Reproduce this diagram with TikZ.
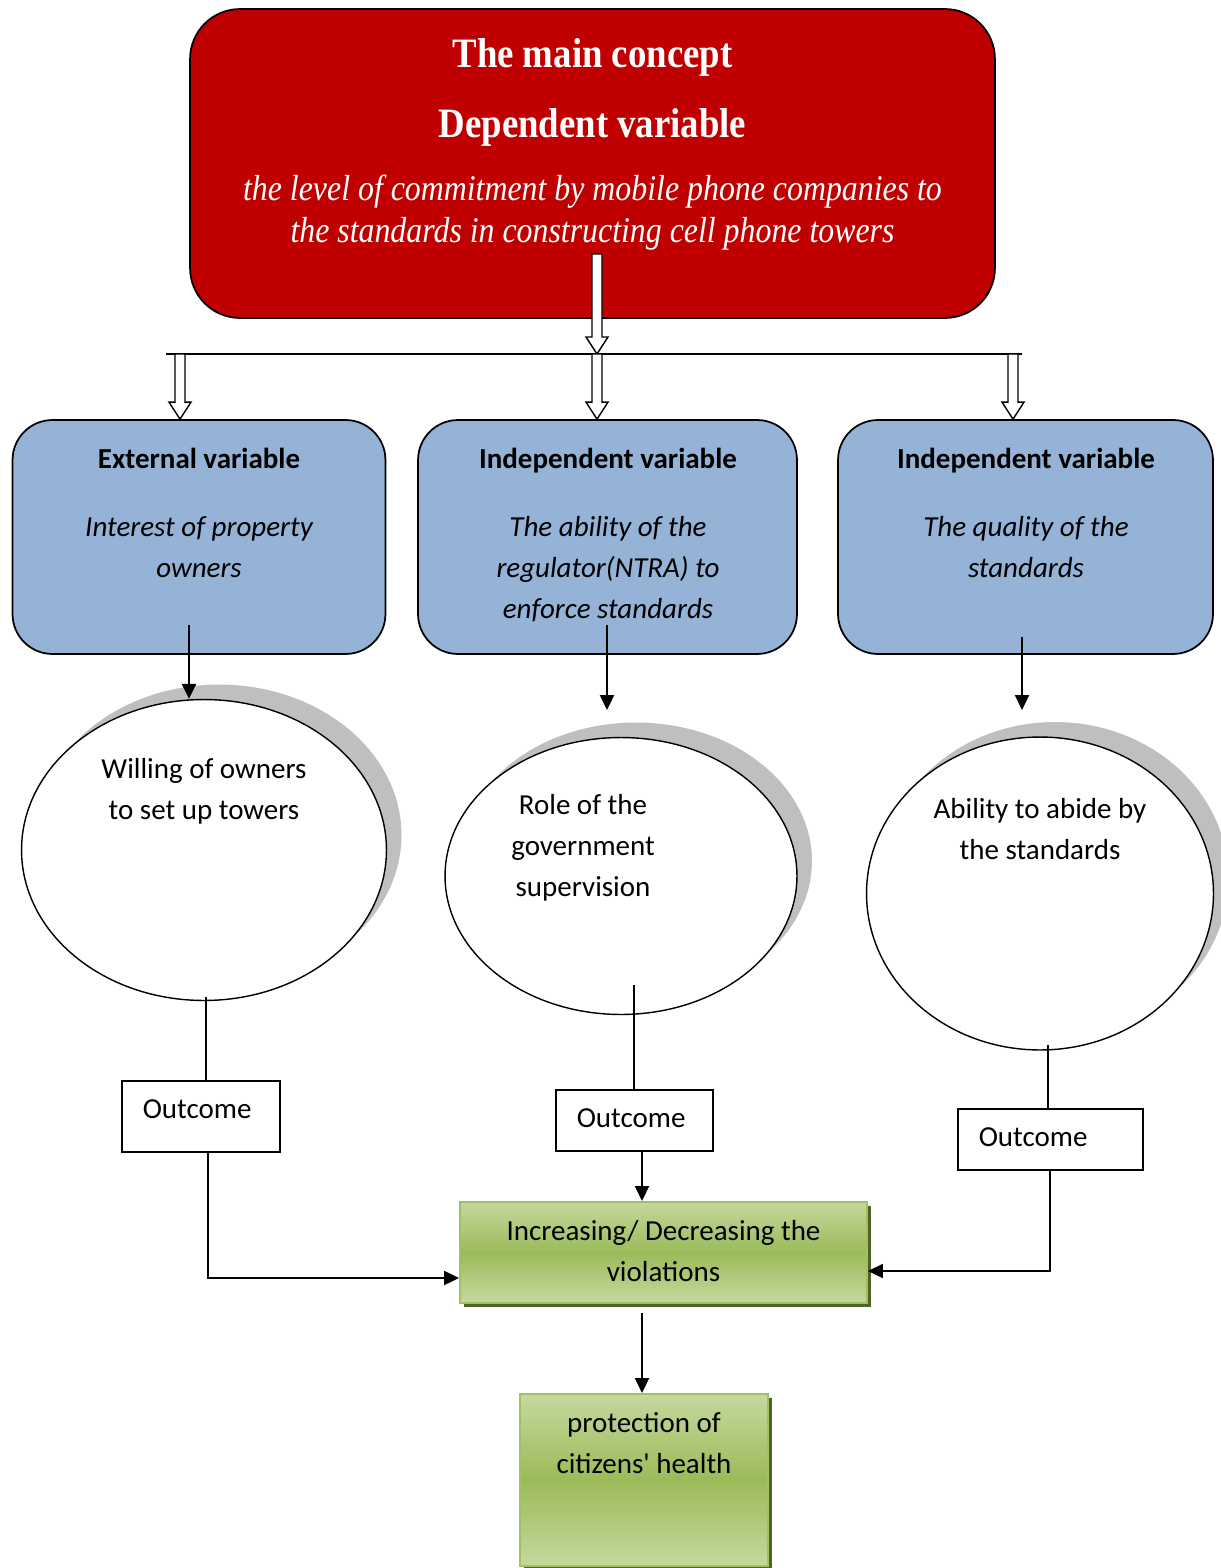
\documentclass[tikz,border=0pt]{standalone}
\usepackage{fontspec}
\setmainfont{Carlito}
\newfontfamily\serifhead[FakeStretch=0.88]{Liberation Serif}
\usetikzlibrary{arrows.meta,shapes.geometric,shadows,calc}

\definecolor{conceptred}{RGB}{192,0,0}
\definecolor{varblue}{RGB}{149,179,215}
\definecolor{greenlight}{RGB}{197,216,158}
\definecolor{greenmid}{RGB}{155,187,89}
\definecolor{greenborder}{RGB}{160,192,98}
\definecolor{greendark}{RGB}{79,98,40}
\definecolor{shadowgray}{RGB}{191,191,191}

% several centred lines, baseline on the first one
\newcommand{\linesof}[1]{\begin{tabular}[t]{@{}c@{}}#1\end{tabular}}

% white block arrow pointing down, from #1 to #2
\newcommand{\hollowarrow}[2]{%
  \draw[hollow] let \p1=(#1), \p2=(#2) in
    (\x1-0.1cm,\y1) -- (\x1+0.1cm,\y1) -- (\x1+0.1cm,\y2+0.34cm)
    -- (\x1+0.22cm,\y2+0.34cm) -- (\x1,\y2) -- (\x1-0.22cm,\y2+0.34cm)
    -- (\x1-0.1cm,\y2+0.34cm) -- cycle;}

\tikzset{
  concept/.style={draw, line width=1pt, fill=conceptred, rounded corners=1cm, inner sep=0},
  varbox/.style={draw, line width=1pt, fill=varblue, rounded corners=0.8cm,
    minimum height=4.68cm, inner sep=0},
  bubble/.style={ellipse, draw, line width=0.8pt, fill=white, inner sep=0,
    drop shadow={shadow xshift=0.3cm, shadow yshift=0.3cm, fill=shadowgray, opacity=1}},
  outbox/.style={draw, fill=white, line width=0.9pt, inner xsep=0.42cm, inner ysep=0,
    text height=0.76cm, align=left, anchor=north west,
    font=\fontsize{16.5}{23.5}\selectfont},
  resultbox/.style={draw=greenborder, line width=1.2pt, top color=greenlight,
    bottom color=greenlight, middle color=greenmid, inner sep=0,
    drop shadow={shadow xshift=0.08cm, shadow yshift=-0.08cm, fill=greendark, opacity=1}},
  headtext/.style={font={\serifhead\bfseries\fontsize{23.8}{28}\selectfont}, text=white,
    inner sep=0, anchor=base},
  dvtext/.style={font={\serifhead\itshape\fontsize{20.6}{24.4}\selectfont}, text=white,
    inner sep=0, anchor=base},
  varhead/.style={font={\bfseries\fontsize{16.5}{23.5}\selectfont}, inner sep=0, anchor=base},
  vardesc/.style={font={\itshape\fontsize{16.5}{23.5}\selectfont}, inner sep=0, anchor=base},
  plaintext/.style={font={\fontsize{16.5}{23.5}\selectfont}, inner sep=0, anchor=base},
  hollow/.style={draw, line width=0.8pt, fill=white},
  link/.style={line width=1.1pt},
  conn/.style={line width=1.1pt, -{Triangle[length=8.5pt,width=8pt]}}
}

\begin{document}
\begin{tikzpicture}[x=0.02cm, y=-0.02cm]
\useasboundingbox (0,0) rectangle (1220,1568);

% dependent variable
\node[concept, minimum width=16.1cm, minimum height=6.18cm] (concept) at (592.5,163.5) {};
\node[headtext] (title1) at (592.5,68) {The main concept};
\node[headtext] (title2) at (592.5,137) {Dependent variable};
\node[dvtext] (dvdesc) at (592.5,200)
  {\linesof{the level of commitment by mobile phone companies to\\the standards in constructing cell phone towers}};

% the three variables
\node[varbox, minimum width=7.46cm] (extvar) at (199,537) {};
\node[varbox, minimum width=7.58cm] (indvarA) at (607.5,537) {};
\node[varbox, minimum width=7.5cm] (indvarB) at (1025.5,537) {};

\node[varhead] (extvar-h) at (199,468) {External variable};
\node[vardesc] (extvar-d) at (199,536) {\linesof{Interest of property\\owners}};
\node[varhead] (indvarA-h) at (608,468) {Independent variable};
\node[vardesc] (indvarA-d) at (608,536) {\linesof{The ability of the\\regulator(NTRA) to\\enforce standards}};
\node[varhead] (indvarB-h) at (1026,468) {Independent variable};
\node[vardesc] (indvarB-d) at (1026,536) {\linesof{The quality of the\\standards}};

% effects
\node[bubble, minimum width=7.3cm, minimum height=6.02cm] (willing) at (204,850) {};
\node[bubble, minimum width=7.04cm, minimum height=5.54cm] (role) at (621,876) {};
\node[bubble, minimum width=6.94cm, minimum height=6.26cm] (ability) at (1040,893.5) {};

\node[plaintext] (willing-t) at (204,778) {\linesof{Willing of owners\\to set up towers}};
\node[plaintext] (role-t) at (583,814) {\linesof{Role of the\\government\\supervision}};
\node[plaintext] (ability-t) at (1040,818) {\linesof{Ability to abide by\\the standards}};

% outcomes
\node[outbox, text width=2.32cm, text depth=0.66cm] (outA) at (121,1080) {Outcome};
\node[outbox, text width=2.3cm, text depth=0.46cm] (outB) at (555,1089) {Outcome};
\node[outbox, text width=2.86cm, text depth=0.46cm] (outC) at (957,1108) {Outcome};

% results
\node[resultbox, minimum width=8.14cm, minimum height=2.02cm] (violations) at (663.5,1252.5) {};
\node[resultbox, minimum width=4.96cm, minimum height=3.44cm] (health) at (644,1480) {};
\node[plaintext] (violations-t) at (663.5,1240) {\linesof{Increasing/ Decreasing the\\violations}};
\node[plaintext] (health-t) at (644,1432) {\linesof{protection of\\citizens\textquotesingle{} health}};

% block arrows from the main concept
\coordinate (c0) at (597,254);
\coordinate (split) at (597,354);
\coordinate (barL) at (166,354);
\coordinate (barR) at (1022,354);
\coordinate (hA) at (180,354);
\coordinate (hC) at (1013,354);
\draw[link] (barL) -- (barR);
\hollowarrow{c0}{split}
\hollowarrow{split}{split |- indvarA.north}
\hollowarrow{hA}{hA |- extvar.north}
\hollowarrow{hC}{hC |- indvarB.north}

% variables to effects
\coordinate (dA) at (189,625);
\coordinate (dB) at (607,625);
\coordinate (dB2) at (607,710);
\coordinate (dC) at (1022,637);
\coordinate (dC2) at (1022,710);
\draw[conn] (dA) -- (dA |- willing.north);
\draw[conn] (dB) -- (dB2);
\draw[conn] (dC) -- (dC2);

% effects to outcomes
\coordinate (eA) at (206,997);
\coordinate (eB) at (634,985);
\coordinate (eC) at (1048,1045);
\draw[link] (eA) -- (eA |- outA.north);
\draw[link] (eB) -- (eB |- outB.north);
\draw[link] (eC) -- (eC |- outC.north);

% outcomes to violations
\coordinate (fA) at (208,1278);
\coordinate (gB) at (642,1200);
\coordinate (fC) at (1050,1271);
\draw[conn] (fA |- outA.south) -- (fA) -- (fA -| violations.west);
\draw[conn] (gB |- outB.south) -- (gB |- violations.north);
\draw[conn] (fC |- outC.south) -- (fC) -- (fC -| violations.east);

% violations to health
\coordinate (hV) at (642,1313);
\draw[conn] (hV) -- (hV |- health.north);

\end{tikzpicture}
\end{document}
